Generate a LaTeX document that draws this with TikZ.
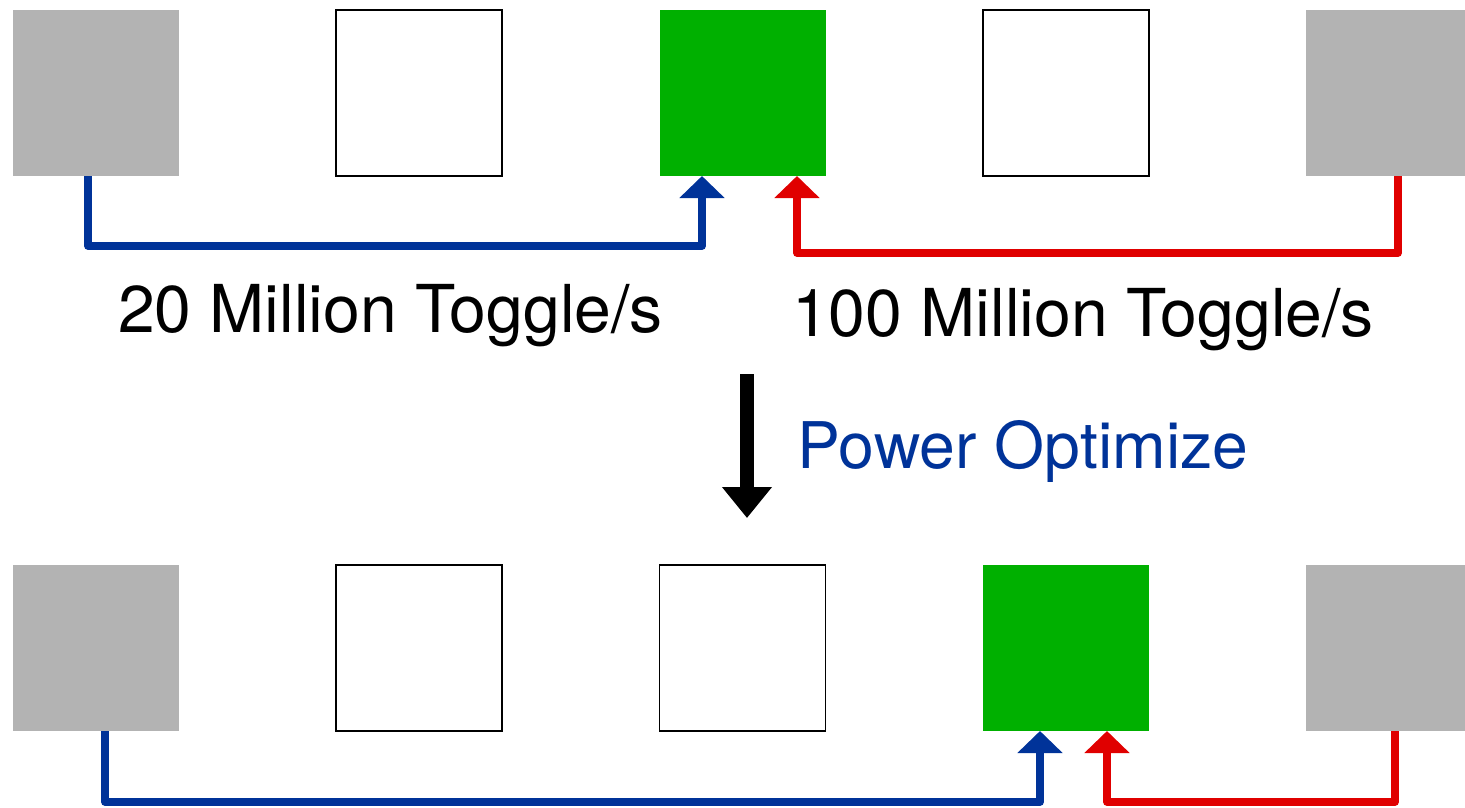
\documentclass[tikz,border=0pt]{standalone}
\usepackage{fontspec}
\setmainfont{TeX Gyre Heros}
\usepackage{xcolor}
\usepackage{tikz}
\usetikzlibrary{arrows.meta}

\definecolor{wireblue}{RGB}{0,51,153}
\definecolor{wirered}{RGB}{224,0,0}
\definecolor{cellgreen}{RGB}{0,176,0}
\definecolor{cellgray}{RGB}{179,179,179}

\tikzset{
    cell/.style={minimum width=1.66cm, minimum height=1.66cm, inner sep=0pt, outer sep=0pt},
    graybox/.style={cell, fill=cellgray},
    greenbox/.style={cell, fill=cellgreen},
    emptybox/.style={cell, draw=black, line width=0.45pt, fill=white},
    wire/.style={line width=0.075cm, line join=round,
        -{Triangle[width=0.44cm,length=0.22cm]}},
    label/.style={inner sep=0pt, anchor=base, font=\fontsize{18.8pt}{22pt}\selectfont}
}

\begin{document}
\begin{tikzpicture}
        \useasboundingbox (0,0) rectangle (14.65,-8.07);

        % upper row
        \node[graybox]  (t1) at (0.96,-0.93) {};
        \node[emptybox] (t2) at (4.19,-0.93) {};
        \node[greenbox] (t3) at (7.425,-0.93) {};
        \node[emptybox] (t4) at (10.66,-0.93) {};
        \node[graybox]  (t5) at (13.89,-0.93) {};

        % lower row
        \node[graybox]  (b1) at (0.96,-6.48) {};
        \node[emptybox] (b2) at (4.19,-6.48) {};
        \node[emptybox] (b3) at (7.425,-6.48) {};
        \node[greenbox] (b4) at (10.66,-6.48) {};
        \node[graybox]  (b5) at (13.89,-6.48) {};

        \draw[wire, wireblue] ([xshift=-0.08cm]t1.south) -- ++(0,-0.70)
            -| ([xshift=-0.405cm]t3.south);
        \draw[wire, wirered] ([xshift=0.09cm]t5.south) -- ++(0,-0.77)
            -| ([xshift=0.545cm]t3.south);

        \draw[wire, wireblue] ([xshift=0.09cm]b1.south) -- ++(0,-0.71)
            -| ([xshift=-0.26cm]b4.south);
        \draw[wire, wirered] ([xshift=0.06cm]b5.south) -- ++(0,-0.71)
            -| ([xshift=0.41cm]b4.south);

        \node[label] (rate20) at (3.905,-3.32) {20 Million Toggle/s};
        \node[label] (rate100) at (10.83,-3.36) {100 Million Toggle/s};

        % optimisation step
        \coordinate (opttop) at (7.47,-3.74);
        \coordinate (optbot) at (7.47,-5.18);
        \draw[line width=0.14cm, -{Triangle[width=0.48cm,length=0.31cm]}] (opttop) -- (optbot);
        \node[label, anchor=base west, text=wireblue, font=\fontsize{18.3pt}{22pt}\selectfont]
            (optlbl) at (7.97,-4.68) {Power Optimize};
\end{tikzpicture}
\end{document}
